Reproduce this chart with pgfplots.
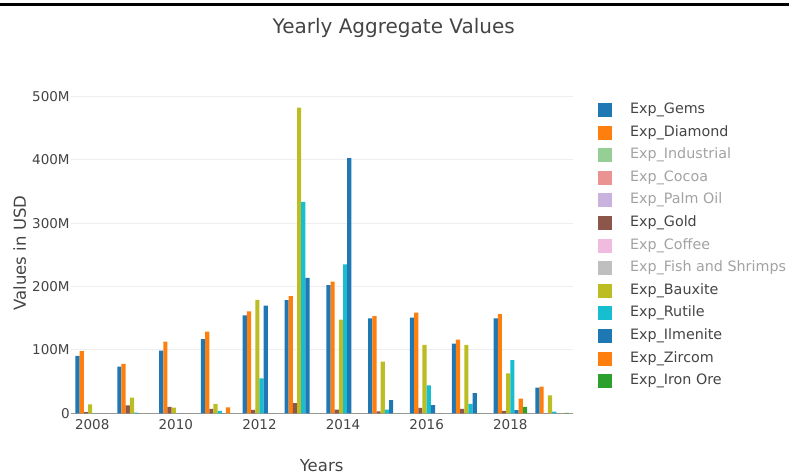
\documentclass[border=0pt]{standalone}
\usepackage{fontspec}
\setmainfont{DejaVu Sans}
\usepackage{pgfplots}
\usepackage{pgfplotstable}
\pgfplotsset{compat=1.18}

\definecolor{cGems}{HTML}{1F77B4}
\definecolor{cDia}{HTML}{FF7F0E}
\definecolor{cInd}{HTML}{2CA02C}
\definecolor{cCocoa}{HTML}{D62728}
\definecolor{cPalm}{HTML}{9467BD}
\definecolor{cGold}{HTML}{8C564B}
\definecolor{cCoffee}{HTML}{E377C2}
\definecolor{cFish}{HTML}{7F7F7F}
\definecolor{cBaux}{HTML}{BCBD22}
\definecolor{cRut}{HTML}{17BECF}
\definecolor{cIlm}{HTML}{1F77B4}
\definecolor{cZir}{HTML}{FF7F0E}
\definecolor{cIron}{HTML}{2CA02C}
\definecolor{txt}{HTML}{444444}
\definecolor{faded}{HTML}{A2A2A2}
\definecolor{gridc}{HTML}{EEEEEE}
\definecolor{zeroc}{HTML}{999999}

% values in millions of USD
\pgfplotstableread{
year gems  diamond gold bauxite rutile ilmenite zircom iron
2008 90.7  98      2    14      0      0        0      0
2009 73.9  78      12.7 24.8    1      0        0      0
2010 99    113     10   9       0      0        0      0
2011 117   129     7    15      4      0        9.5    0
2012 154.6 161     5.5  179     55     170      0      0
2013 178.8 185     16   482.6   334    214      0      0
2014 202.5 207.8   6    148     235    403      0      0
2015 149.8 153.5   3    81.7    6      21       0      0
2016 151   158.8   8.5  108     44     13       0      0
2017 110   116.5   7    108     15     32       0      0
2018 150   156.6   3.7  63      84     5        23     10
2019 40.6  42      0    28.5    2.6    0        0      0.7
}\yearly

\pgfplotsset{sq/.style={legend image code/.code={\fill[##1, draw=none] (0pt,-7pt) rectangle (14pt,7pt);}}}

\begin{document}
\begin{tikzpicture}[x=1pt,y=1pt]
\useasboundingbox (-71.3,-61.7) rectangle (717.7,413.3);
\clip (-71.3,-61.7) rectangle (717.7,413.3);
\fill[black] (-71.3,406.8) rectangle (717.7,410);
\begin{axis}[
    at={(0,0)}, anchor=south west,
    scale only axis, width=501.7pt, height=321.7pt,
    xmin=2007.5, xmax=2019.5, ymin=0, ymax=508,
    ybar, bar width=0.1,
    axis line style={draw=none},
    major tick length=0pt,
    xtick={2008,2010,2012,2014,2016,2018},
    xticklabels={2008,2010,2012,2014,2016,2018},
    ytick={100,200,300,400,500},
    yticklabels={100M,200M,300M,400M,500M},
    extra y ticks={0}, extra y tick labels={0},
    extra y tick style={grid=major, major grid style={draw=zeroc, line width=1.5pt}},
    ymajorgrids, major grid style={draw=gridc, line width=1pt},
    tick label style={font=\fontsize{13.5}{16}\selectfont, text=txt},
    x tick label style={anchor=north, inner sep=0pt, yshift=-6pt},
    y tick label style={anchor=east, inner sep=0pt, xshift=-1.5pt},
    legend cell align=left,
    legend style={at={(1.0498,0.9667)}, anchor=north west, draw=none, fill=none,
      inner sep=0pt, font=\fontsize{14.3}{17}\selectfont, text=txt,
      /tikz/row sep=7.6pt, /tikz/column sep=18pt,
      nodes={inner sep=0pt, text height=11pt, text depth=4pt}},
  ]
  \addplot[fill=cGems, draw=none, bar shift=-0.35, forget plot] table[x=year, y=gems] {\yearly};
  \addplot[fill=cDia,  draw=none, bar shift=-0.25, forget plot] table[x=year, y=diamond] {\yearly};
  \addplot[fill=cGold, draw=none, bar shift=-0.15, forget plot] table[x=year, y=gold] {\yearly};
  \addplot[fill=cBaux, draw=none, bar shift=-0.05, forget plot] table[x=year, y=bauxite] {\yearly};
  \addplot[fill=cRut,  draw=none, bar shift=0.05,  forget plot] table[x=year, y=rutile] {\yearly};
  \addplot[fill=cIlm,  draw=none, bar shift=0.15,  forget plot] table[x=year, y=ilmenite] {\yearly};
  \addplot[fill=cZir,  draw=none, bar shift=0.25,  forget plot] table[x=year, y=zircom] {\yearly};
  \addplot[fill=cIron, draw=none, bar shift=0.35,  forget plot] table[x=year, y=iron] {\yearly};

  \addlegendimage{sq, fill=cGems}          \addlegendentry{Exp\_Gems}
  \addlegendimage{sq, fill=cDia}           \addlegendentry{Exp\_Diamond}
  \addlegendimage{sq, fill=cInd!50!white}  \addlegendentry{\textcolor{faded}{Exp\_Industrial}}
  \addlegendimage{sq, fill=cCocoa!50!white}\addlegendentry{\textcolor{faded}{Exp\_Cocoa}}
  \addlegendimage{sq, fill=cPalm!50!white} \addlegendentry{\textcolor{faded}{Exp\_Palm Oil}}
  \addlegendimage{sq, fill=cGold}          \addlegendentry{Exp\_Gold}
  \addlegendimage{sq, fill=cCoffee!50!white}\addlegendentry{\textcolor{faded}{Exp\_Coffee}}
  \addlegendimage{sq, fill=cFish!50!white} \addlegendentry{\textcolor{faded}{Exp\_Fish and Shrimps}}
  \addlegendimage{sq, fill=cBaux}          \addlegendentry{Exp\_Bauxite}
  \addlegendimage{sq, fill=cRut}           \addlegendentry{Exp\_Rutile}
  \addlegendimage{sq, fill=cIlm}           \addlegendentry{Exp\_Ilmenite}
  \addlegendimage{sq, fill=cZir}           \addlegendentry{Exp\_Zircom}
  \addlegendimage{sq, fill=cIron}          \addlegendentry{Exp\_Iron Ore}
\end{axis}
\node[anchor=base, font=\fontsize{20}{24}\selectfont, text=txt] at (322.4,380) {Yearly Aggregate Values};
\node[anchor=base, rotate=90, font=\fontsize{16.5}{20}\selectfont, text=txt] at (-45.3,160.3) {Values in USD};
\node[anchor=base, font=\fontsize{16.5}{20}\selectfont, text=txt] at (250.3,-58.3) {Years};
\end{tikzpicture}
\end{document}
